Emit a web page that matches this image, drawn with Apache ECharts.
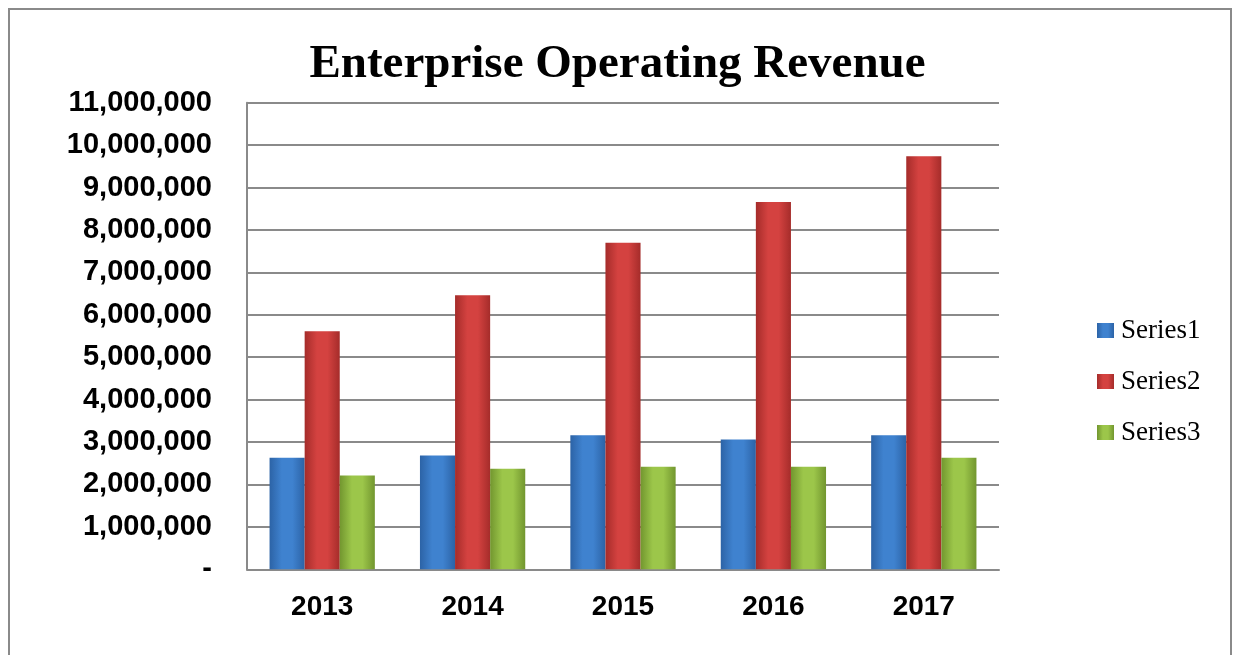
<!DOCTYPE html>
<html>
<head>
<meta charset="utf-8">
<script src="https://cdn.jsdelivr.net/npm/echarts@6/dist/echarts.min.js"></script>
<style>
html,body{margin:0;padding:0;background:#fff;}
#chart{width:1235px;height:655px;}
</style>
</head>
<body>
<div id="chart"></div>
<script>
var categories = ['2013', '2014', '2015', '2016', '2017'];
var series1 = [2630000, 2680000, 3160000, 3060000, 3160000];
var series2 = [5610000, 6460000, 7700000, 8660000, 9740000];
var series3 = [2210000, 2370000, 2420000, 2420000, 2630000];
var seriesNames = ['Series1', 'Series2', 'Series3'];
var yTicks = { min: 0, max: 11000000, interval: 1000000 };
var titleText = 'Enterprise Operating Revenue';

function barGrad(dark, light) {
  return new echarts.graphic.LinearGradient(0, 0, 1, 0, [
    { offset: 0, color: dark },
    { offset: 0.35, color: light },
    { offset: 0.65, color: light },
    { offset: 1, color: dark }
  ]);
}
var styles = [
  { dark: '#2c63a6', light: '#3f82cf', solid: '#3a78c4' },
  { dark: '#a52c2a', light: '#d44240', solid: '#c83a37' },
  { dark: '#72962f', light: '#9cc64a', solid: '#8db840' }
];
var dataSets = [series1, series2, series3];

var chart = echarts.init(document.getElementById('chart'));
chart.setOption({
  animation: false,
  backgroundColor: '#ffffff',
  graphic: [{
    type: 'rect',
    shape: { x: 9, y: 9, width: 1222, height: 700 },
    style: { fill: 'none', stroke: '#8a8a8a', lineWidth: 2 },
    silent: true
  }],
  title: {
    text: titleText,
    left: 'center',
    top: 36,
    textStyle: { fontFamily: 'Liberation Serif, Times New Roman, serif', fontWeight: 'bold', fontSize: 47, color: '#000' }
  },
  legend: {
    orient: 'vertical',
    left: 1092,
    top: 312,
    itemWidth: 17,
    itemHeight: 15,
    itemGap: 24,
    icon: 'rect',
    textStyle: { fontFamily: 'Liberation Serif, Times New Roman, serif', fontSize: 27, color: '#000', padding: [0, 0, 0, 2] },
    data: seriesNames
  },
  grid: { left: 247, right: 236, top: 102.7, bottom: 85.7, containLabel: false },
  xAxis: {
    type: 'category',
    data: categories,
    axisTick: { show: false },
    axisLine: { lineStyle: { color: '#8a8a8a', width: 2 } },
    axisLabel: { margin: 24, fontFamily: 'Liberation Sans, Arial, sans-serif', fontWeight: 'bold', fontSize: 28, color: '#000' }
  },
  yAxis: {
    type: 'value',
    min: yTicks.min,
    max: yTicks.max,
    interval: yTicks.interval,
    axisLine: { show: true, lineStyle: { color: '#8a8a8a', width: 2 } },
    axisTick: { show: false },
    splitLine: { lineStyle: { color: '#8a8a8a', width: 2 } },
    axisLabel: {
      margin: 35,
      fontFamily: 'Liberation Sans, Arial, sans-serif', fontWeight: 'bold', fontSize: 29, color: '#000',
      formatter: function (v) { return v === 0 ? '-' : v.toLocaleString('en-US'); }
    }
  },
  series: seriesNames.map(function (name, i) {
    return {
      name: name,
      type: 'bar',
      data: dataSets[i],
      barGap: '0%',
      barCategoryGap: '30%',
      itemStyle: {
        color: barGrad(styles[i].dark, styles[i].light),
        shadowColor: 'rgba(0,0,0,0.25)',
        shadowBlur: 4,
        shadowOffsetX: 1
      }
    };
  })
});
chart.setOption({
  series: seriesNames.map(function (name, i) {
    return { name: name, color: styles[i].solid };
  })
});
</script>
</body>
</html>
